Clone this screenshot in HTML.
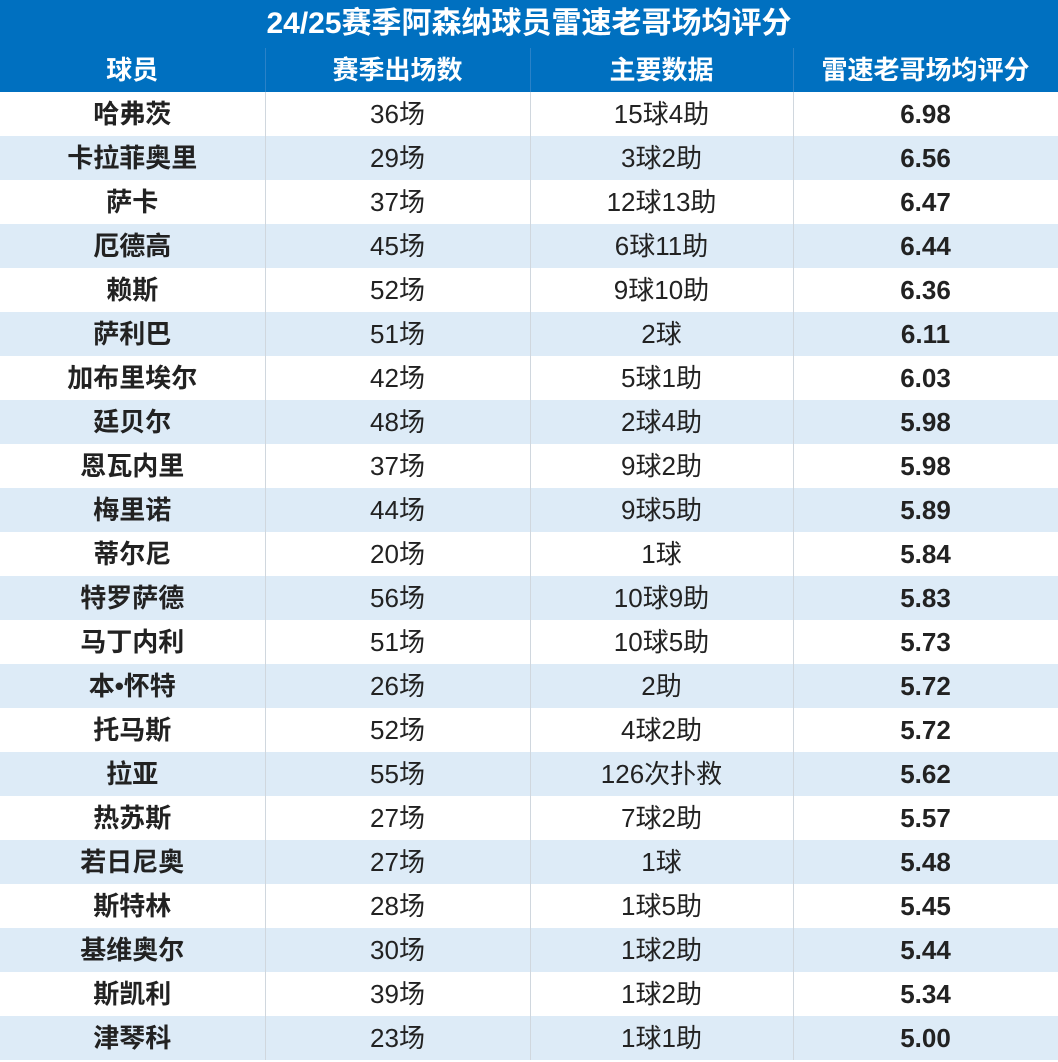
<!DOCTYPE html><html><head><meta charset="utf-8"><style>
body{margin:0;width:1058px;height:1062px;background:#fff;font-family:"Liberation Sans","Noto Sans CJK SC",sans-serif;overflow:hidden}
.t{height:48px;background:#0070C0;color:#fff;font-weight:bold;font-size:30px;text-align:center;line-height:48px}
table{border-collapse:collapse;width:1058px;table-layout:fixed}
td{height:44px;padding:0;text-align:center;font-size:26px;color:#222;border-right:1px solid #d0d7de;line-height:44px}
th{height:44px;padding:0;line-height:42px;background:#0070C0;color:#fff;font-size:26px;border-right:1px solid #2a82c8}
tr.h{height:44px}
tr:nth-child(odd) td{background:#DDEBF7}
td.b{font-weight:bold}
</style></head><body>
<div class="t">24/25赛季阿森纳球员雷速老哥场均评分</div>
<table><colgroup><col style="width:265px"><col style="width:265px"><col style="width:263px"><col style="width:265px"></colgroup>
<tr class="h"><th>球员</th><th>赛季出场数</th><th>主要数据</th><th>雷速老哥场均评分</th></tr>
<tr><td class="b">哈弗茨</td><td>36场</td><td>15球4助</td><td class="b">6.98</td></tr>
<tr><td class="b">卡拉菲奥里</td><td>29场</td><td>3球2助</td><td class="b">6.56</td></tr>
<tr><td class="b">萨卡</td><td>37场</td><td>12球13助</td><td class="b">6.47</td></tr>
<tr><td class="b">厄德高</td><td>45场</td><td>6球11助</td><td class="b">6.44</td></tr>
<tr><td class="b">赖斯</td><td>52场</td><td>9球10助</td><td class="b">6.36</td></tr>
<tr><td class="b">萨利巴</td><td>51场</td><td>2球</td><td class="b">6.11</td></tr>
<tr><td class="b">加布里埃尔</td><td>42场</td><td>5球1助</td><td class="b">6.03</td></tr>
<tr><td class="b">廷贝尔</td><td>48场</td><td>2球4助</td><td class="b">5.98</td></tr>
<tr><td class="b">恩瓦内里</td><td>37场</td><td>9球2助</td><td class="b">5.98</td></tr>
<tr><td class="b">梅里诺</td><td>44场</td><td>9球5助</td><td class="b">5.89</td></tr>
<tr><td class="b">蒂尔尼</td><td>20场</td><td>1球</td><td class="b">5.84</td></tr>
<tr><td class="b">特罗萨德</td><td>56场</td><td>10球9助</td><td class="b">5.83</td></tr>
<tr><td class="b">马丁内利</td><td>51场</td><td>10球5助</td><td class="b">5.73</td></tr>
<tr><td class="b">本•怀特</td><td>26场</td><td>2助</td><td class="b">5.72</td></tr>
<tr><td class="b">托马斯</td><td>52场</td><td>4球2助</td><td class="b">5.72</td></tr>
<tr><td class="b">拉亚</td><td>55场</td><td>126次扑救</td><td class="b">5.62</td></tr>
<tr><td class="b">热苏斯</td><td>27场</td><td>7球2助</td><td class="b">5.57</td></tr>
<tr><td class="b">若日尼奥</td><td>27场</td><td>1球</td><td class="b">5.48</td></tr>
<tr><td class="b">斯特林</td><td>28场</td><td>1球5助</td><td class="b">5.45</td></tr>
<tr><td class="b">基维奥尔</td><td>30场</td><td>1球2助</td><td class="b">5.44</td></tr>
<tr><td class="b">斯凯利</td><td>39场</td><td>1球2助</td><td class="b">5.34</td></tr>
<tr><td class="b">津琴科</td><td>23场</td><td>1球1助</td><td class="b">5.00</td></tr>
</table></body></html>
